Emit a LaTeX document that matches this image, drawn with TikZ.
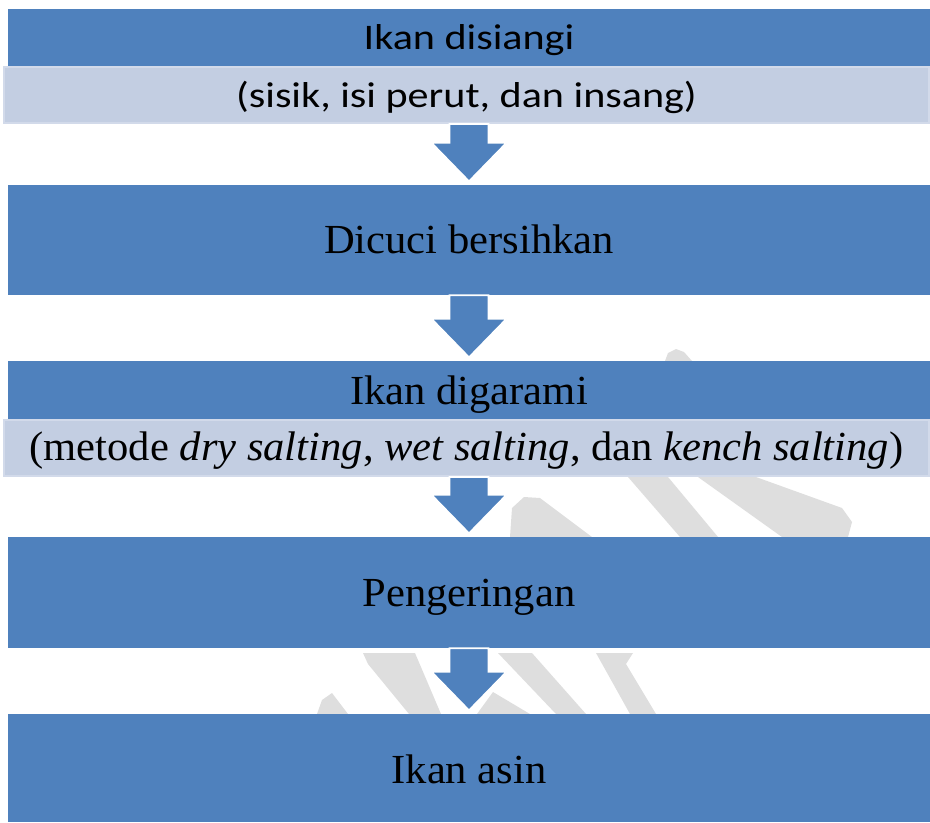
\documentclass[tikz,border=0pt]{standalone}
\usepackage{fontspec}
\setmainfont{Liberation Serif}[FakeStretch=1.03]
\newfontfamily\calibrifont{Carlito}[FakeStretch=1.17]
\usetikzlibrary{calc}

\definecolor{boxblue}{HTML}{4F81BD}
\definecolor{barblue}{HTML}{C3CEE2}
\definecolor{baredge}{HTML}{D2DAEA}
\definecolor{markgray}{HTML}{DEDEDE}

% block arrow from the bottom of one node to the top of the next
\newcommand{\flowarrow}[2]{%
    \filldraw[flowarr] ($(#1.south -| #2.north)+(-19.5,0)$) -- ($(#2.north)+(-19.5,-42)$)
        -- ($(#2.north)+(-37.5,-42)$) -- ($(#2.north)+(0,-3.5)$)
        -- ($(#2.north)+(37.5,-42)$) -- ($(#2.north)+(19.5,-42)$)
        -- ($(#1.south -| #2.north)+(19.5,0)$) -- cycle;}

\begin{document}
\begin{tikzpicture}[x=0.75pt, y=-0.75pt,
        stepbox/.style={rectangle, fill=boxblue, inner sep=0pt, minimum width=691.5pt,
            font=\fontsize{31pt}{36pt}\selectfont, text depth=0pt},
        subbar/.style={rectangle, fill=barblue, draw=baredge, line width=1.5pt, inner sep=0pt,
            minimum width=693.75pt, minimum height=42pt,
            font=\fontsize{31pt}{36pt}\selectfont, text depth=0pt},
        calfont/.style={font=\calibrifont\fontsize{27pt}{32pt}\selectfont},
        flowarr/.style={fill=boxblue, draw=white, line width=1.2pt, line join=miter}]
        \useasboundingbox (0,0) rectangle (930,822);
        % watermark
        \fill[markgray] (665,361) -- (668,353) -- (676,349) -- (684,352) -- (692,361) -- cycle;
        \fill[markgray] (510,537) -- (512,508) -- (524,497) -- (540,498) -- (592,537) -- cycle;
        \fill[markgray] (628,477) -- (668,477) -- (718,537) -- (680,537) -- cycle;
        \fill[markgray] (698,477) -- (756,477) -- (842,508) -- (852,522) -- (848,537) -- (782,537) -- cycle;
        \fill[markgray] (317,714) -- (322,700) -- (332,693) -- (348,714) -- cycle;
        \fill[markgray] (363,653) -- (415,653) -- (441,714) -- (409,714) -- (368,664) -- cycle;
        \fill[markgray] (477,714) -- (493,692) -- (530,714) -- cycle;
        \fill[markgray] (498,653) -- (532,653) -- (586,714) -- (556,714) -- cycle;
        \fill[markgray] (596,653) -- (633,653) -- (626,664) -- (656,714) -- (630,714) -- cycle;

        \node[stepbox, calfont, minimum height=42.75pt, text height=17.5pt] (disiangi) at (469,37.5)
            {Ikan disiangi};
        \node[subbar, calfont, text height=18pt] (disiangisub) at (466.5,95)
            {(sisik, isi perut, dan insang)};
        \node[stepbox, minimum height=82.5pt, text height=19.5pt] (dicuci) at (469,240)
            {Dicuci bersihkan};
        \node[stepbox, minimum height=43.5pt, text height=21pt] (digarami) at (469,390)
            {Ikan digarami};
        \node[subbar, text height=18pt] (digaramisub) at (466.5,448)
            {(metode \textit{dry salting}, \textit{wet salting}, dan \textit{kench salting})};
        \node[stepbox, minimum height=83.25pt, text height=20.25pt] (pengeringan) at (469,592.5)
            {Pengeringan};
        \node[stepbox, minimum height=81pt, text height=22.5pt] (asin) at (469,768)
            {Ikan asin};

        \flowarrow{disiangisub}{dicuci}
        \flowarrow{dicuci}{digarami}
        \flowarrow{digaramisub}{pengeringan}
        \flowarrow{pengeringan}{asin}
    \end{tikzpicture}
\end{document}
